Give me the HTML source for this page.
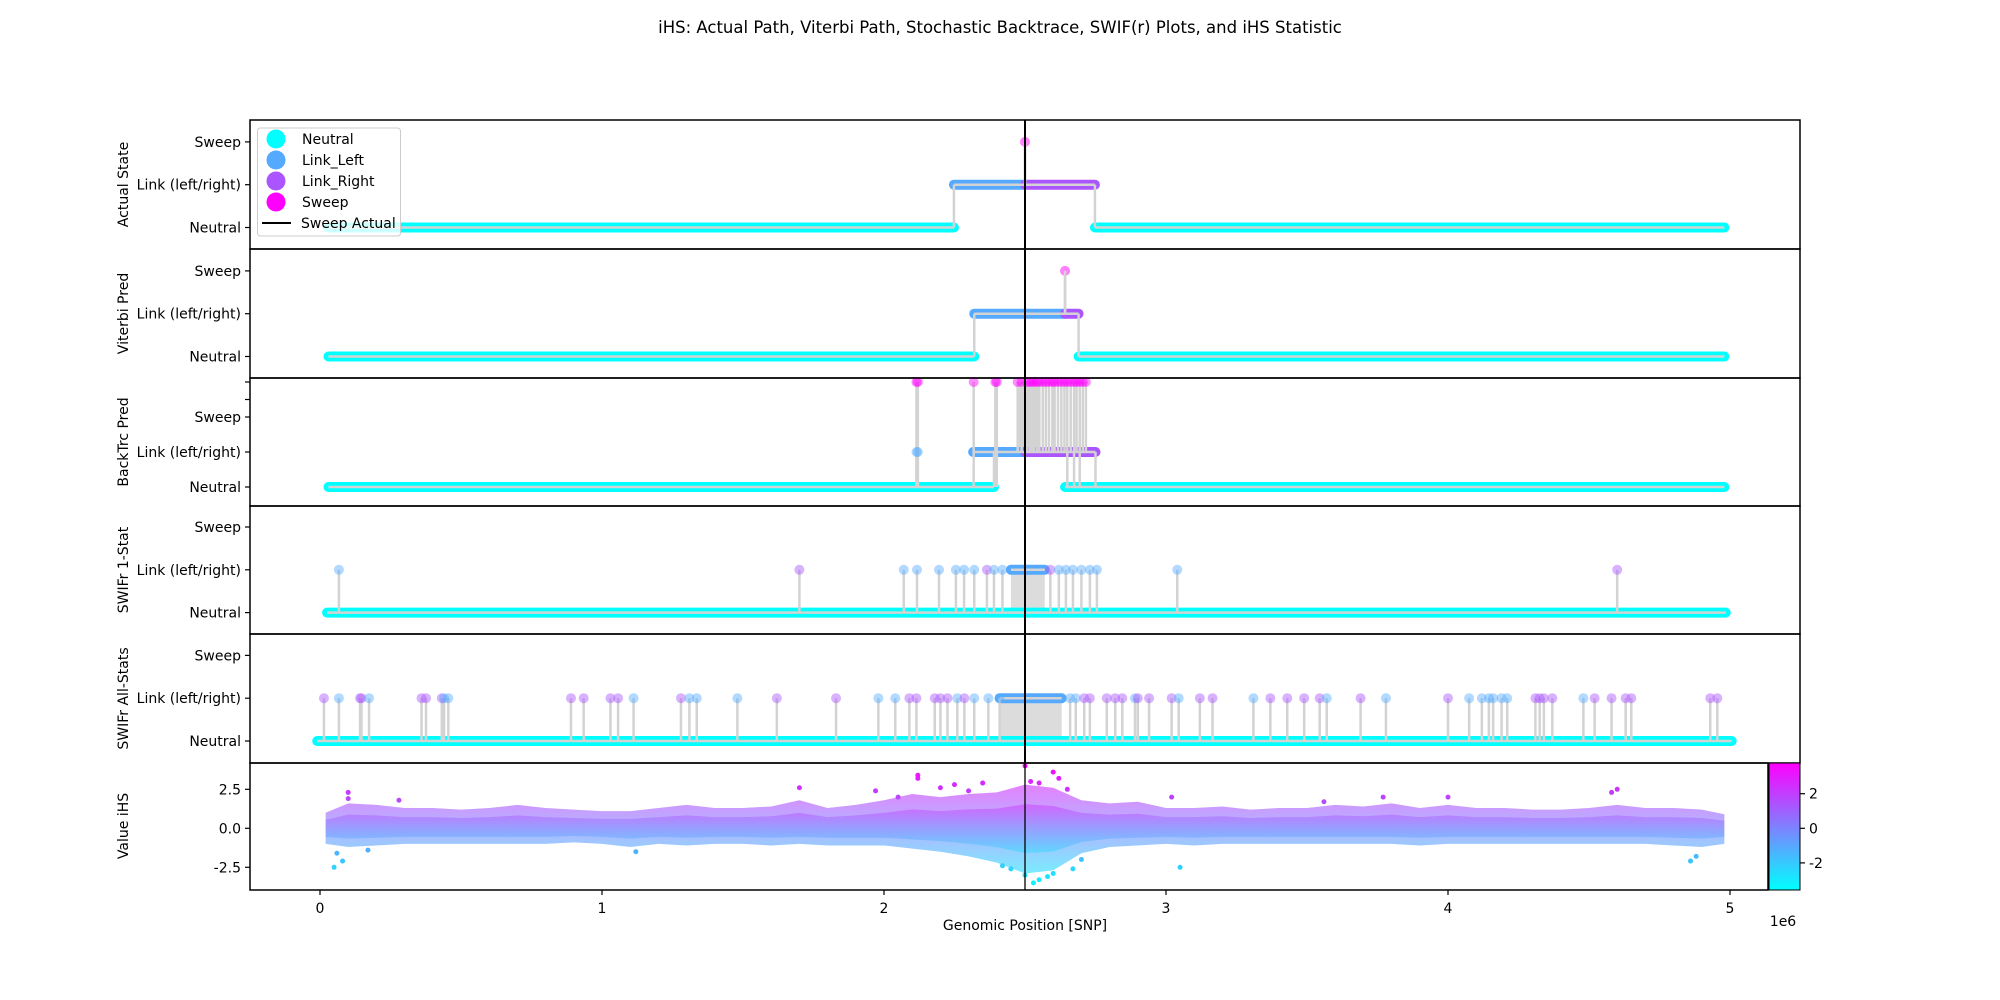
<!DOCTYPE html>
<html><head><meta charset="utf-8"><title>iHS chart</title>
<style>
html,body{margin:0;padding:0;background:#fff;}
svg{display:block;font-family:"DejaVu Sans","Liberation Sans",sans-serif;}
</style></head>
<body>
<svg id="chart" xmlns="http://www.w3.org/2000/svg" width="2000" height="1000" viewBox="0 0 2000 1000">
<defs>
<linearGradient id="cool" gradientUnits="userSpaceOnUse" x1="0" y1="890" x2="0" y2="763">
<stop offset="0" stop-color="#00ffff"/><stop offset="1" stop-color="#ff00ff"/>
</linearGradient>
<clipPath id="clipTop"><rect x="250" y="120" width="1550" height="643"/></clipPath>
<clipPath id="clipBot"><rect x="250" y="763" width="1518" height="127"/></clipPath>
</defs>
<text x="1000" y="33" text-anchor="middle" font-size="16.5">iHS: Actual Path, Viterbi Path, Stochastic Backtrace, SWIF(r) Plots, and iHS Statistic</text>
<g id="g"></g>
</svg>
<script>
// ===== data (positions in units of 1e6 SNP; states: 0 Neutral,1 Link_Left,2 Link_Right,3 Sweep) =====
const stateLabels = ["Neutral","Link (left/right)","Sweep"];
const panelTitles = ["Actual State","Viterbi Pred","BackTrc Pred","SWIFr 1-Stat","SWIFr All-Stats"];
const xTicks = [0,1,2,3,4,5];
const sweepActual = 2.5;

const p1RunStart = [0.03,2.248,2.5,2.5,2.748];
const p1RunEnd   = [2.248,2.5,2.5,2.748,4.98];
const p1RunState = [0,1,3,2,0];

const p2RunStart = [0.03,2.32,2.642,2.642,2.69];
const p2RunEnd   = [2.32,2.642,2.642,2.69,4.98];
const p2RunState = [0,1,3,2,0];

const p3RunStart = [0.03,2.316,2.5,2.642];
const p3RunEnd   = [2.39,2.5,2.75,4.98];
const p3RunState = [0,1,2,0];
const p3EventX     = [2.115,2.12,2.115,2.12,2.318,2.395,2.40,2.474,2.488,2.506,2.516,2.524,2.532,2.542,2.551,2.563,2.574,2.585,2.597,2.605,2.617,2.629,2.640,2.650,2.662,2.674,2.683,2.694,2.705,2.716];
const p3EventState = [1,1,3,3,3,3,3,3,3,3,3,3,3,3,3,3,3,3,3,3,3,3,3,3,3,3,3,3,3,3];
const p3EventBase  = [0,0,0,0,0,0,0,1,1,1,1,1,1,1,1,1,1,1,1,1,1,1,1,0,1,0,1,0,1,1];

const p4RunStart = [0.025,2.45];
const p4RunEnd   = [4.985,2.57];
const p4RunState = [0,1];
const p4EventX     = [0.067,1.70,2.07,2.117,2.195,2.255,2.284,2.32,2.365,2.39,2.42,2.59,2.62,2.645,2.67,2.70,2.73,2.755,3.04,4.60];
const p4EventState = [1,2,1,1,1,1,1,1,2,1,1,2,1,1,1,1,1,1,1,2];

const p5RunStart = [-0.01,2.41];
const p5RunEnd   = [5.006,2.63];
const p5RunState = [0,1];
const p5EventX = [0.014,0.067,0.142,0.147,0.174,0.36,0.376,0.432,0.44,0.455,0.89,0.935,1.03,1.057,1.112,1.28,1.31,1.336,1.48,1.62,1.83,1.98,2.04,2.09,2.115,2.18,2.2,2.225,2.26,2.285,2.32,2.37,2.41,
 2.66,2.68,2.71,2.73,2.79,2.82,2.845,2.89,2.90,2.94,3.02,3.045,3.12,3.165,3.31,3.37,3.43,3.49,3.545,3.57,3.69,3.78,4.0,4.075,4.12,4.145,4.16,4.19,4.21,4.31,4.325,4.34,4.37,4.48,4.52,4.58,4.63,4.65,4.93,4.955];
const p5EventState = [2,1,2,2,1,2,2,2,1,1,2,2,2,2,1,2,1,1,1,2,2,1,1,2,2,2,2,2,1,2,1,1,1,
 1,1,2,2,2,2,2,1,2,2,2,1,2,2,1,2,2,2,2,1,2,1,2,1,1,1,1,1,1,2,2,2,2,1,2,2,2,2,2,2];

// iHS cloud envelope (bins every 0.1e6 from 0 to 5)
const ihsBins = [0.02,0.1,0.2,0.3,0.4,0.5,0.6,0.7,0.8,0.9,1.0,1.1,1.2,1.3,1.4,1.5,1.6,1.7,1.8,1.9,2.0,2.1,2.2,2.3,2.4,2.5,2.6,2.7,2.8,2.9,3.0,3.1,3.2,3.3,3.4,3.5,3.6,3.7,3.8,3.9,4.0,4.1,4.2,4.3,4.4,4.5,4.6,4.7,4.8,4.9,4.98];
const ihsUpper = [1.0,1.6,1.5,1.3,1.3,1.2,1.3,1.5,1.3,1.2,1.1,1.1,1.3,1.5,1.3,1.3,1.4,1.8,1.3,1.5,1.8,2.2,2.0,2.2,2.3,2.8,2.6,1.8,1.6,1.7,1.3,1.3,1.4,1.2,1.3,1.3,1.5,1.4,1.6,1.3,1.5,1.3,1.3,1.2,1.2,1.3,1.5,1.3,1.3,1.2,0.9];
const ihsLower = [-1.0,-1.2,-1.1,-1.0,-1.0,-1.0,-1.0,-1.0,-1.0,-0.9,-1.0,-1.2,-1.0,-1.1,-1.0,-1.0,-1.1,-1.0,-1.1,-1.1,-1.1,-1.3,-1.5,-1.8,-2.2,-2.9,-2.7,-1.6,-1.2,-1.1,-1.0,-1.1,-1.0,-1.0,-1.0,-1.0,-1.0,-1.0,-1.0,-1.1,-1.0,-1.0,-1.0,-1.0,-1.0,-1.0,-1.0,-1.0,-1.1,-1.2,-1.0];
const ihsOutX = [0.1,0.1,0.05,0.08,0.28,1.7,1.97,2.12,2.12,2.2,2.25,2.35,2.5,2.52,2.55,2.6,2.62,2.65,2.53,2.55,2.5,2.6,2.67,3.05,3.77,4.0,4.6,4.58,4.86,2.45,2.58,0.06,0.17,1.12,2.05,2.3,2.42,2.7,3.02,3.56,4.88];
const ihsOutY = [2.3,1.9,-2.5,-2.1,1.8,2.6,2.4,3.4,3.2,2.6,2.8,2.9,4.0,3.0,2.9,3.6,3.2,2.5,-3.5,-3.3,-3.0,-2.9,-2.6,-2.5,2.0,2.0,2.5,2.3,-2.1,-2.6,-3.1,-1.6,-1.4,-1.5,2.0,2.4,-2.4,-2.0,2.0,1.7,-1.8];
const cbarTicks = [2,0,-2];
const ihsTicks = [2.5,0,-2.5];

// ===== layout =====
const NS="http://www.w3.org/2000/svg";
const G=document.getElementById('g');
const X=v=>320+v*282;
const panels=[
 {top:120,bot:249,n0:227.5,u:42.8},
 {top:249,bot:378,n0:356.5,u:42.8},
 {top:378,bot:506,n0:487,u:35},
 {top:506,bot:634,n0:612.6,u:42.8},
 {top:634,bot:763,n0:741,u:42.8}
];
const stateColor=["#00ffff","#55aaff","#aa55ff","#ff00ff"];
const stateLevel=[0,1,1,2];
function el(tag,attrs,parent){const e=document.createElementNS(NS,tag);for(const k in attrs)e.setAttribute(k,attrs[k]);(parent||G).appendChild(e);return e;}

const runsData=[[p1RunStart,p1RunEnd,p1RunState],[p2RunStart,p2RunEnd,p2RunState],[p3RunStart,p3RunEnd,p3RunState],[p4RunStart,p4RunEnd,p4RunState],[p5RunStart,p5RunEnd,p5RunState]];
const eventsData=[null,null,[p3EventX,p3EventState,p3EventBase],[p4EventX,p4EventState,null],[p5EventX,p5EventState,null]];

panels.forEach((p,i)=>{
  const g=el('g',{'clip-path':'url(#clipTop)'});
  
  
  const Y=lv=>p.n0-lv*p.u;
  const sweepLv = i===2?3:2;
  const lvOf=s=>s===3?sweepLv:stateLevel[s];
  const [rs,re,rst]=runsData[i];
  if(i>=3){
    const f=el('rect',{x:X(rs[1]),y:Y(1),width:X(re[1])-X(rs[1]),height:Y(0)-Y(1),fill:'#d3d3d3',opacity:0.8},g);
    
    
  }
  if(i===2){
    const f=el('rect',{x:X(2.478),y:Y(3),width:X(2.55)-X(2.478),height:Y(1)-Y(3),fill:'#d3d3d3'},g);
    
    
  }
  rs.forEach((s,k)=>{
    const st=rst[k],y=Y(lvOf(st));
    if(st===3){
      const c=el('circle',{cx:X(s),cy:y,r:5,fill:stateColor[3],opacity:0.5},g);
      
      
    } else {
      const l=el('line',{x1:X(s),x2:X(re[k]),y1:y,y2:y,stroke:stateColor[st],'stroke-width':10,'stroke-linecap':'round'},g);
      
      
    }
  });
  rs.forEach((s,k)=>{
    const st=rst[k],y=Y(lvOf(st));
    const h=el('line',{x1:X(s),x2:X(re[k]),y1:y,y2:y,stroke:'#d3d3d3','stroke-width':2.5},g);
    
    
    if(k<rs.length-1 && i<3){
      const ny=Y(lvOf(rst[k+1]));
      const v=el('line',{x1:X(re[k]),x2:X(re[k]),y1:y,y2:ny,stroke:'#d3d3d3','stroke-width':2.5},g);
      
      
    }
  });
  const ev=eventsData[i];
  if(ev){
    const [ex,es,eb]=ev;
    ex.forEach((x,k)=>{
      const base=eb?eb[k]:0;
      const s=el('line',{x1:X(x),x2:X(x),y1:Y(base),y2:Y(lvOf(es[k])),stroke:'#d3d3d3','stroke-width':2.5},g);
      
      
    });
    ex.forEach((x,k)=>{
      const c=el('circle',{cx:X(x),cy:Y(lvOf(es[k])),r:5,fill:stateColor[es[k]],opacity:0.45},g);
      
      
    });
  }
  const fr=el('rect',{x:250,y:p.top,width:1550,height:p.bot-p.top,fill:'none',stroke:'#000','stroke-width':1.5});
  
  
  stateLabels.forEach((lab,k)=>{
    const y=Y(k);
    const t=el('line',{x1:245,x2:250,y1:y,y2:y,stroke:'#000','stroke-width':1.2});
    
    
    const tx=el('text',{x:241,y:y+5,'text-anchor':'end','font-size':14});
    tx.textContent=lab;
    
    
  });
  if(i===2){[2.5,3].forEach(lv=>{
    const t=el('line',{x1:245,x2:250,y1:Y(lv),y2:Y(lv),stroke:'#000','stroke-width':1.2});
    
    
  });}
  const yl=el('text',{x:0,y:0,'text-anchor':'middle','font-size':14,transform:`translate(128,${(p.top+p.bot)/2}) rotate(-90)`});
  yl.textContent=panelTitles[i];
  
  
});

// ===== bottom iHS panel =====
const YI=v=>828.3-v*15.6;
const gb=el('g',{'clip-path':'url(#clipBot)'});


let d='M'+ihsBins.map((b,k)=>X(b)+','+YI(ihsUpper[k])).join(' L');
for(let k=ihsBins.length-1;k>=0;k--) d+=' L'+X(ihsBins[k])+','+YI(ihsLower[k]);
d+=' Z';
const band=el('path',{d:d,fill:'url(#cool)',opacity:0.6},gb);


const core=el('path',{d:d,fill:'url(#cool)',opacity:0.45,transform:'translate(0,828.3) scale(1,0.55) translate(0,-828.3)'},gb);


ihsOutX.forEach((x,k)=>{
  const c=el('circle',{cx:X(x),cy:YI(ihsOutY[k]),r:2.5,fill:'url(#cool)'},gb);
  
  
});
const bf=el('rect',{x:250,y:763,width:1518,height:127,fill:'none',stroke:'#000','stroke-width':1.5});


ihsTicks.forEach(v=>{
  const t=el('line',{x1:245,x2:250,y1:YI(v),y2:YI(v),stroke:'#000','stroke-width':1.2});
  
  
  const tx=el('text',{x:241,y:YI(v)+5,'text-anchor':'end','font-size':14});
  tx.textContent=v.toFixed(1);
  
  
});
const yl=el('text',{x:0,y:0,'text-anchor':'middle','font-size':14,transform:'translate(128,826) rotate(-90)'});
yl.textContent='Value iHS';


xTicks.forEach(v=>{
  const t=el('line',{x1:X(v),x2:X(v),y1:890,y2:895,stroke:'#000','stroke-width':1.2});
  
  
  const tx=el('text',{x:X(v),y:913,'text-anchor':'middle','font-size':14});
  tx.textContent=String(v);
  
  
});
const xl=el('text',{x:1025,y:930,'text-anchor':'middle','font-size':14});
xl.textContent='Genomic Position [SNP]';


const ex=el('text',{x:1783,y:926,'text-anchor':'middle','font-size':14});
ex.textContent='1e6';



const cb=el('rect',{x:1769,y:763,width:31,height:127,fill:'url(#cool)',stroke:'#000','stroke-width':1});


cbarTicks.forEach(v=>{
  const y=828.3-v*17.3;
  const t=el('line',{x1:1800,x2:1805,y1:y,y2:y,stroke:'#000','stroke-width':1.2});
  
  
  const tx=el('text',{x:1809,y:y+5,'font-size':14});
  tx.textContent=String(v);
  
  
});

const vl=el('line',{x1:X(sweepActual),x2:X(sweepActual),y1:120,y2:763,stroke:'#000','stroke-width':2});


const vl2=el('line',{x1:X(sweepActual),x2:X(sweepActual),y1:763,y2:890,stroke:'#000','stroke-width':1.3});



const lg=el('g',{});


const lb=el('rect',{x:257.5,y:128,width:143,height:108,rx:3,fill:'#fff','fill-opacity':0.8,stroke:'#ccc'},lg);


const legNames=["Neutral","Link_Left","Link_Right","Sweep"];
legNames.forEach((n,k)=>{
  const y=139+k*21;
  const c=el('circle',{cx:276,cy:y,r:9.5,fill:stateColor[k]},lg);
  
  
  const t=el('text',{x:302,y:y+5,'font-size':14},lg);
  t.textContent=n;
  
  
});
const ll=el('line',{x1:262,x2:291,y1:223,y2:223,stroke:'#000','stroke-width':2},lg);


const lt=el('text',{x:301,y:228,'font-size':14},lg);
lt.textContent='Sweep Actual';


</script>
</body></html>
